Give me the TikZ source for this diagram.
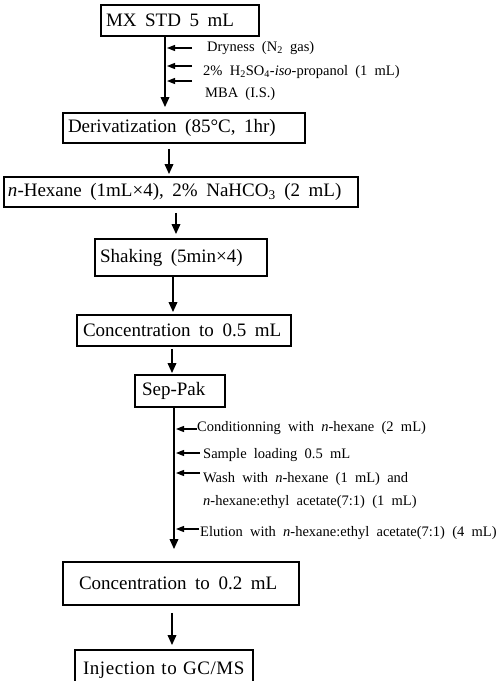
\documentclass[tikz,border=0pt]{standalone}
\usepackage{fontspec}
\setmainfont{Liberation Serif}
\newfontfamily\injfont{Liberation Serif}[LetterSpace=3]
\protected\def\myboxfont{\fontsize{19}{21}\selectfont}
\protected\def\mysidefont{\fontsize{14.5}{23}\selectfont\spaceskip=0.5em\relax}
\protected\def\bt#1{\mbox{\spaceskip=0.45em\relax #1}}
\usetikzlibrary{arrows.meta}
\begin{document}
\begin{tikzpicture}[x=1pt,y=-1pt,
  box/.style={draw, line width=1.8pt, font=\myboxfont, align=left, anchor=center, inner ysep=0pt},
  side/.style={anchor=west, inner sep=0pt, font=\mysidefont, align=left},
  arr/.style={line width=1.8pt, -{Triangle[length=10pt,width=8.5pt]}},
  sarr/.style={line width=1.3pt, -{Triangle[length=8pt,width=6pt]}}]
\useasboundingbox (0,0) rectangle (501,681);
% boxes
\node[box, inner xsep=5pt, text width=148pt, minimum height=31pt] (b1) at (180,20.5) {\bt{MX STD 5 mL}};
\node[box, inner xsep=5pt, text width=232pt, minimum height=30pt] (b2) at (184,128) {\bt{Derivatization (85°C, 1hr)}};
\node[box, inner xsep=4pt, text width=346pt, minimum height=30pt] (b3) at (181,192) {\bt{\textit{n}-Hexane (1mL×4), 2\% NaHCO\textsubscript{3} (2 mL)}};
\node[box, inner xsep=5pt, text width=162pt, minimum height=37pt] (b4) at (181,257.5) {\bt{Shaking (5min×4)}};
\node[box, inner xsep=6pt, text width=202pt, minimum height=31pt] (b5) at (184,330.5) {\bt{Concentration to 0.5 mL}};
\node[box, inner xsep=7pt, text width=76pt, minimum height=32pt] (b6) at (180,391) {\bt{Sep-Pak}};
\node[box, inner xsep=16pt, text width=204pt, minimum height=43pt] (b7) at (181,583.5) {\bt{Concentration to 0.2 mL}};
\node[box, inner xsep=8pt, text width=162pt, minimum height=40pt] (b8) at (164,670) {\mbox{\injfont Injection to GC/MS}};
% line positions
\coordinate (c1) at (165,0);
\coordinate (c2) at (169,0);
\coordinate (c3) at (176,0);
\coordinate (c4) at (173,0);
\coordinate (c5) at (172,0);
\coordinate (c6) at (174,0);
\coordinate (c7) at (172,0);
% main arrows
\draw[arr] (b1.south -| c1) -- ([yshift=5pt]b2.north -| c1);
\draw[arr] ([yshift=-5pt]b2.south -| c2) -- ([yshift=2pt]b3.north -| c2);
\draw[arr] ([yshift=-5pt]b3.south -| c3) -- ([yshift=4pt]b4.north -| c3);
\draw[arr] (b4.south -| c4) -- ([yshift=2pt]b5.north -| c4);
\draw[arr] ([yshift=-2pt]b5.south -| c5) -- ([yshift=1pt]b6.north -| c5);
\draw[arr] (b6.south -| c6) -- ([yshift=12pt]b7.north -| c6);
\draw[arr] ([yshift=-7pt]b7.south -| c7) -- ([yshift=4pt]b8.north -| c7);
% side labels (upper)
\node[side] (l1) at (207,48) {Dryness (N\textsubscript{2} gas)};
\node[side] (l2) at (203,72) {2\% H\textsubscript{2}SO\textsubscript{4}-\textit{iso}-propanol (1 mL)};
\node[side] (l3) at (205,94) {MBA (I.S.)};
\coordinate (a1) at (192,48);
\coordinate (a2) at (192,66);
\coordinate (a3) at (192,81);
\draw[sarr] (a1) -- ([xshift=2pt]a1 -| c1);
\draw[sarr] (a2) -- ([xshift=2pt]a2 -| c1);
\draw[sarr] (a3) -- ([xshift=2pt]a3 -| c1);
% side labels (lower)
\node[side] (l4) at (197,428) {Conditionning with \textit{n}-hexane (2 mL)};
\node[side] (l5) at (203,455) {Sample loading 0.5 mL};
\node[side] (l6) at (203,490.5) {Wash with \textit{n}-hexane (1 mL) and\\\textit{n}-hexane:ethyl acetate(7:1) (1 mL)};
\node[side] (l7) at (200,533) {Elution with \textit{n}-hexane:ethyl acetate(7:1) (4 mL)};
\coordinate (a4) at (197,429);
\coordinate (a5) at (200,453);
\coordinate (a6) at (200,473);
\coordinate (a7) at (199,529);
\draw[sarr] (a4) -- ([xshift=2pt]a4 -| c6);
\draw[sarr] (a5) -- ([xshift=2pt]a5 -| c6);
\draw[sarr] (a6) -- ([xshift=2pt]a6 -| c6);
\draw[sarr] (a7) -- ([xshift=2pt]a7 -| c6);
\end{tikzpicture}
\end{document}
